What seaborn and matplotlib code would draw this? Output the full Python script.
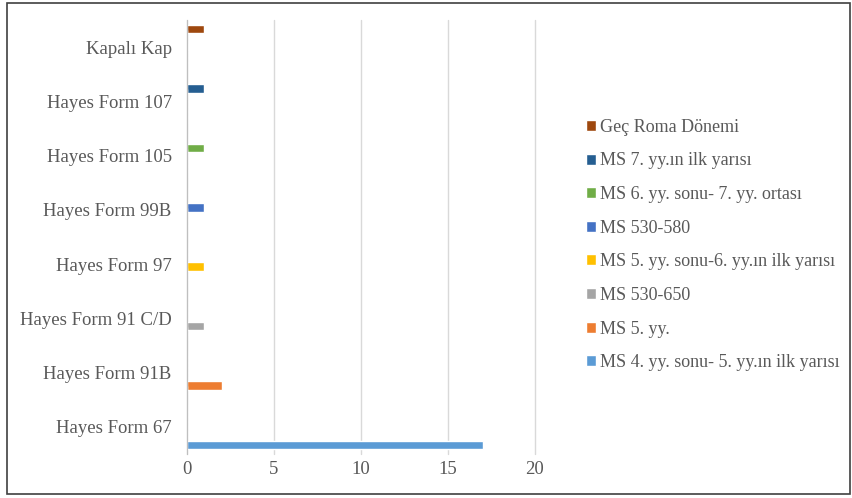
import numpy as np
import pandas as pd
import matplotlib.pyplot as plt
import seaborn as sns
from matplotlib.patches import Rectangle

# categories (bottom to top as in the chart)
forms = ["Hayes Form 67", "Hayes Form 91B", "Hayes Form 91 C/D", "Hayes Form 97",
         "Hayes Form 99B", "Hayes Form 105", "Hayes Form 107", "Kapalı Kap"]
# one dating series per form
periods = ["MS 4. yy. sonu- 5. yy.ın ilk yarısı", "MS 5. yy.", "MS 530-650",
           "MS 5. yy. sonu-6. yy.ın ilk yarısı", "MS 530-580",
           "MS 6. yy. sonu- 7. yy. ortası", "MS 7. yy.ın ilk yarısı", "Geç Roma Dönemi"]
counts = [17, 2, 1, 1, 1, 1, 1, 1]
colors = ["#5B9BD5", "#ED7D31", "#A5A5A5", "#FFC000", "#4472C4", "#70AD47",
          "#255E91", "#9E480E"]

rows = []
for i, f in enumerate(forms):
    for j, p in enumerate(periods):
        rows.append({"form": f, "period": p, "count": counts[i] if i == j else 0})
df = pd.DataFrame(rows)

sns.set_style("white")
plt.rcParams['font.family'] = ['Liberation Serif', 'DejaVu Serif']

fig = plt.figure(figsize=(8.53, 4.98), dpi=100)
ax = fig.add_axes([187/853, 1-454/498, 348/853, 434/498])

sns.barplot(data=df, y="form", x="count", hue="period", orient="h",
            order=forms[::-1], hue_order=periods[::-1],
            palette=dict(zip(periods, colors)), width=0.76, errorbar=None,
            saturation=1, ax=ax)

# excel draws the bars a bit thicker than their slot
for p in ax.patches:
    yc = p.get_y() + p.get_height()/2
    p.set_height(0.16)
    p.set_y(yc - 0.08)

ax.set_xlim(0, 20)
ax.set_xticks(np.arange(0, 21, 5))
ax.set_xlabel("")
ax.set_ylabel("")
ax.grid(axis="x", color="#D9D9D9", linewidth=1)
for gl in ax.get_xgridlines():
    gl.set_clip_on(False)
ax.set_axisbelow(True)
for s in ["top", "right", "bottom"]:
    ax.spines[s].set_visible(False)
ax.spines["left"].set_color("#BFBFBF")
ax.tick_params(axis="y", length=0, pad=11, labelsize=13.5, labelcolor="#595959")
ax.tick_params(axis="x", length=0, pad=5, labelsize=13.5, labelcolor="#595959")

sns.move_legend(ax, "center left", bbox_to_anchor=(570/853, 1-245/498),
                bbox_transform=fig.transFigure, frameon=False, title=None,
                fontsize=13, labelcolor="#595959", handlelength=0.55,
                handleheight=0.55, handletextpad=0.2, labelspacing=0.92)

# outer frame
fig.patches.append(Rectangle((7/853, 4/498), 843/853, 491/498, transform=fig.transFigure,
                             fill=False, edgecolor="#404040", linewidth=1.2))

fig.savefig("out.png", dpi=100)
